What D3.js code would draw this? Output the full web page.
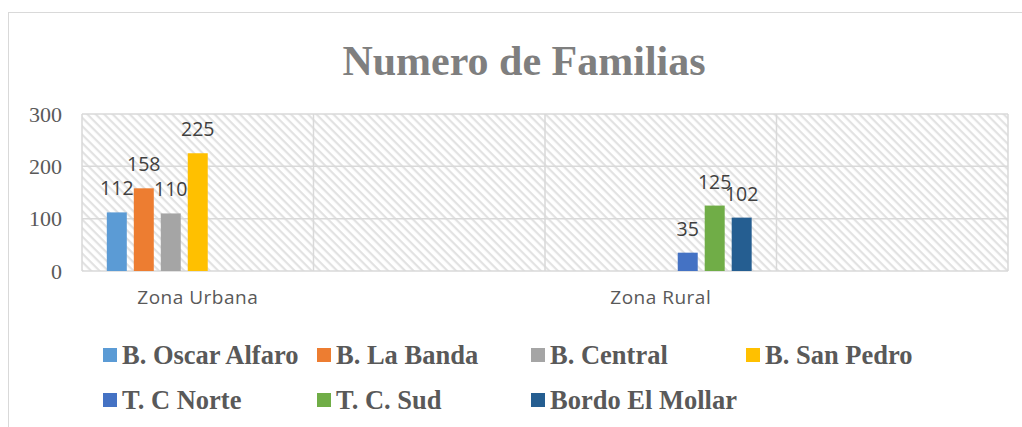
<!DOCTYPE html>
<html>
<head>
<meta charset="utf-8">
<script src="https://cdn.jsdelivr.net/npm/d3@7"></script>
<style>
  html, body { margin: 0; padding: 0; background: #fff; }
  svg { display: block; }
</style>
</head>
<body>
<svg id="chart" width="1022" height="427"></svg>
<script>
// Categories on the x axis (empty slots keep the four-column grid)
const categories = ["Zona Urbana", "gap1", "Zona Rural", "gap2"];
const categoryLabels = ["Zona Urbana", "", "Zona Rural", ""];

// Series names and colours
const seriesNames = ["B. Oscar Alfaro", "B. La Banda", "B. Central", "B. San Pedro",
                     "T. C Norte", "T. C. Sud", "Bordo El Mollar"];
const seriesColors = ["#5B9BD5", "#ED7D31", "#A5A5A5", "#FFC000",
                      "#4472C4", "#70AD47", "#255E91"];

// Values per series, one per category (null = no bar)
const oscarAlfaro  = [112, null, null, null];
const laBanda      = [158, null, null, null];
const central      = [110, null, null, null];
const sanPedro     = [225, null, null, null];
const tcNorte      = [null, null, 35, null];
const tcSud        = [null, null, 125, null];
const bordoMollar  = [null, null, 102, null];
const seriesValues = [oscarAlfaro, laBanda, central, sanPedro, tcNorte, tcSud, bordoMollar];

const yTicks = [0, 100, 200, 300];

const svg = d3.select("#chart");

// Outer chart frame
svg.append("rect")
  .attr("x", 8.5).attr("y", 12.5)
  .attr("width", 1030).attr("height", 430)
  .attr("fill", "#fff").attr("stroke", "#d9d9d9").attr("stroke-width", 1);

// Title
svg.append("text")
  .attr("x", 524).attr("y", 75)
  .attr("text-anchor", "middle")
  .attr("font-family", "'Liberation Serif', 'Times New Roman', serif")
  .attr("font-weight", "bold")
  .attr("font-size", 42)
  .attr("fill", "#7f7f7f")
  .text("Numero de Familias");

const plot = { left: 82, right: 1008, top: 114, bottom: 271 };

const x = d3.scaleBand().domain(categories).range([plot.left, plot.right]);
const xs = d3.scaleBand().domain(d3.range(seriesNames.length))
  .range([0, x.bandwidth()])
  .paddingInner(7 / 27)
  .paddingOuter(0.92);
const y = d3.scaleLinear().domain([0, 300]).range([plot.bottom, plot.top]);

// Diagonal hatch fill for the plot area
const defs = svg.append("defs");
const pat = defs.append("pattern")
  .attr("id", "hatch")
  .attr("patternUnits", "userSpaceOnUse")
  .attr("width", 6).attr("height", 6)
  .attr("patternTransform", "rotate(45)");
pat.append("rect").attr("width", 6).attr("height", 6).attr("fill", "#fff");
pat.append("rect").attr("x", 0).attr("y", 0).attr("width", 6).attr("height", 2.2).attr("fill", "#e2e2e2");

svg.append("rect")
  .attr("x", plot.left).attr("y", plot.top)
  .attr("width", plot.right - plot.left).attr("height", plot.bottom - plot.top)
  .attr("fill", "url(#hatch)");

// Horizontal gridlines
svg.append("g").selectAll("line").data(yTicks).join("line")
  .attr("x1", plot.left).attr("x2", plot.right)
  .attr("y1", d => y(d)).attr("y2", d => y(d))
  .attr("stroke", "#d9d9d9").attr("stroke-width", 1.5);

// Vertical gridlines at category boundaries
const xEdges = categories.map(c => x(c)).concat([plot.right]);
svg.append("g").selectAll("line").data(xEdges).join("line")
  .attr("x1", d => d).attr("x2", d => d)
  .attr("y1", plot.top).attr("y2", plot.bottom)
  .attr("stroke", "#d9d9d9").attr("stroke-width", 1.5);

// Y axis tick labels
const yAxis = d3.axisLeft(y).tickValues(yTicks).tickSize(0).tickPadding(20);
const yg = svg.append("g").attr("transform", `translate(${plot.left},0)`).call(yAxis);
yg.select(".domain").remove();
yg.selectAll("text")
  .attr("font-family", "'Liberation Serif', 'Times New Roman', serif")
  .attr("font-size", 22)
  .attr("fill", "#595959");

// X axis category labels
const xAxis = d3.axisBottom(x).tickSize(0).tickPadding(20).tickFormat((d, i) => categoryLabels[i]);
const xg = svg.append("g").attr("transform", `translate(0,${plot.bottom})`).call(xAxis);
xg.select(".domain").remove();
xg.selectAll("text")
  .attr("font-family", "'Open Sans', sans-serif")
  .attr("font-size", 19)
  .attr("letter-spacing", 0.5)
  .attr("fill", "#595959");

// Bars and value labels
const barData = [];
seriesValues.forEach((vals, si) => {
  vals.forEach((v, ci) => {
    if (v != null) barData.push({ si, cat: categories[ci], v });
  });
});

svg.append("g").selectAll("rect").data(barData).join("rect")
  .attr("x", d => x(d.cat) + xs(d.si))
  .attr("width", xs.bandwidth())
  .attr("y", d => y(d.v))
  .attr("height", d => y(0) - y(d.v))
  .attr("fill", d => seriesColors[d.si]);

svg.append("g").selectAll("text").data(barData).join("text")
  .attr("x", d => x(d.cat) + xs(d.si) + xs.bandwidth() / 2)
  .attr("y", d => y(d.v) - 17)
  .attr("text-anchor", "middle")
  .attr("font-family", "'Open Sans', sans-serif")
  .attr("font-size", 19.5)
  .attr("fill", "#404040")
  .text(d => d.v);

// Legend
const legendPos = [
  [103, 355], [317, 355], [531, 355], [746, 355],
  [103, 400], [317, 400], [531, 400]
];
const lg = svg.append("g").selectAll("g").data(seriesNames).join("g")
  .attr("transform", (d, i) => `translate(${legendPos[i][0]},${legendPos[i][1]})`);
lg.append("rect")
  .attr("x", 0).attr("y", -7).attr("width", 14).attr("height", 14)
  .attr("fill", (d, i) => seriesColors[i]);
lg.append("text")
  .attr("x", 19).attr("y", 9)
  .attr("font-family", "'Liberation Serif', 'Times New Roman', serif")
  .attr("font-weight", "bold")
  .attr("font-size", 26.5)
  .attr("fill", "#595959")
  .text(d => d);
</script>
</body>
</html>
